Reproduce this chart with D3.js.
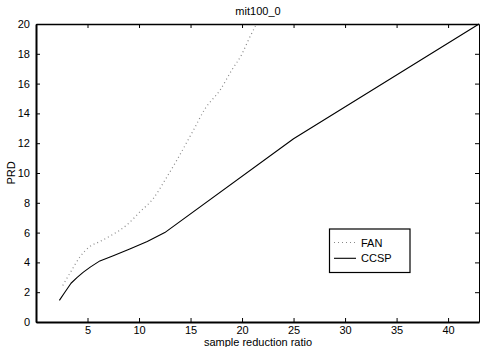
<!DOCTYPE html>
<html><head><meta charset="utf-8">
<script src="https://cdn.jsdelivr.net/npm/d3@7"></script>
<style>body{margin:0;background:#fff}svg{display:block;font-family:"Liberation Sans",Arial,sans-serif}</style>
</head><body><svg id="c" width="480" height="347"></svg>
<script>
const xTicks = [5,10,15,20,25,30,35,40];
const yTicks = [0,2,4,6,8,10,12,14,16,18,20];
const seriesNames = ["FAN","CCSP"];
const fanX = [2.6,3.4,4.3,5.2,6.2,7.2,8.8,10.1,11.4,12.5,13.7,15.3,16.4,17.9,19.0,20.0,20.6,21.4];
const fanY = [2.45,3.4,4.4,5.05,5.4,5.77,6.5,7.4,8.3,9.5,10.9,12.9,14.3,15.6,16.9,18.0,18.9,20.0];
const ccspX = [2.27,2.8,3.4,4.0,4.6,5.3,6.2,7.5,9.1,10.8,12.5,25,43];
const ccspY = [1.45,2.0,2.6,3.0,3.35,3.7,4.1,4.45,4.9,5.4,6.0,12.3,20];

const svg = d3.select("#c");
const L=36, R=479, T=24, B=322;
const x = d3.scaleLinear().domain([0,43]).range([L,R]);
const y = d3.scaleLinear().domain([0,20]).range([B,T]);
const fs = "11px";

// data lines
svg.append("path").datum(fanX.map((v,i)=>[v,fanY[i]]))
  .attr("d", d3.line().curve(d3.curveMonotoneX).x(d=>x(d[0])).y(d=>y(d[1])))
  .attr("fill","none").attr("stroke","#888").attr("stroke-width",1.2).attr("stroke-dasharray","1,3");
svg.append("path").datum(ccspX.map((v,i)=>[v,ccspY[i]]))
  .attr("d", d3.line().x(d=>x(d[0])).y(d=>y(d[1])))
  .attr("fill","none").attr("stroke","#000").attr("stroke-width",1.1).attr("stroke-linejoin","round");

// axes
const gBottom = svg.append("g").attr("transform",`translate(0,${B})`)
  .call(d3.axisBottom(x).tickValues(xTicks).tickSizeInner(-4).tickSizeOuter(0).tickPadding(4));
const gLeft = svg.append("g").attr("transform",`translate(${L},0)`)
  .call(d3.axisLeft(y).tickValues(yTicks).tickSizeInner(-4).tickSizeOuter(0).tickPadding(6));
const gTop = svg.append("g").attr("transform",`translate(0,${T})`)
  .call(d3.axisTop(x).tickValues(xTicks).tickSizeInner(-4).tickSizeOuter(0).tickFormat(""));
const gRight = svg.append("g").attr("transform",`translate(${R},0)`)
  .call(d3.axisRight(y).tickValues(yTicks).tickSizeInner(-4).tickSizeOuter(0).tickFormat(""));
[gBottom,gLeft,gTop,gRight].forEach(g=>{
  g.selectAll("text").attr("font-size",fs).attr("font-family","Liberation Sans, Arial, sans-serif").attr("fill","#000");
  g.selectAll("line").attr("stroke","#000");
  g.select(".domain").attr("stroke","#000").attr("stroke-width",2);
});
gTop.select(".domain").attr("stroke-width",1.5);
gRight.select(".domain").attr("stroke-width",1);

// title and labels
svg.append("text").attr("x",258).attr("y",15).attr("text-anchor","middle").attr("font-size",fs).text("mit100_0");
svg.append("text").attr("x",258).attr("y",346).attr("text-anchor","middle").attr("font-size",fs).text("sample reduction ratio");
svg.append("text").attr("transform","translate(15,173) rotate(-90)").attr("text-anchor","middle").attr("font-size",fs).text("PRD");

// legend
const lg = svg.append("g");
lg.append("rect").attr("x",329.5).attr("y",229).attr("width",80.5).attr("height",43.5)
  .attr("fill","#fff").attr("stroke","#000").attr("stroke-width",1.2);
const styles = [{c:"#888",d:"1,3"},{c:"#000",d:null}];
seriesNames.forEach((n,i)=>{
  const yy = 242.5 + i*15.8;
  lg.append("line").attr("x1",334).attr("x2",356).attr("y1",yy).attr("y2",yy)
    .attr("stroke",styles[i].c).attr("stroke-width",1.1).attr("stroke-dasharray",styles[i].d);
  lg.append("text").attr("x",361).attr("y",yy+4).attr("font-size",fs).text(n);
});
</script></body></html>
